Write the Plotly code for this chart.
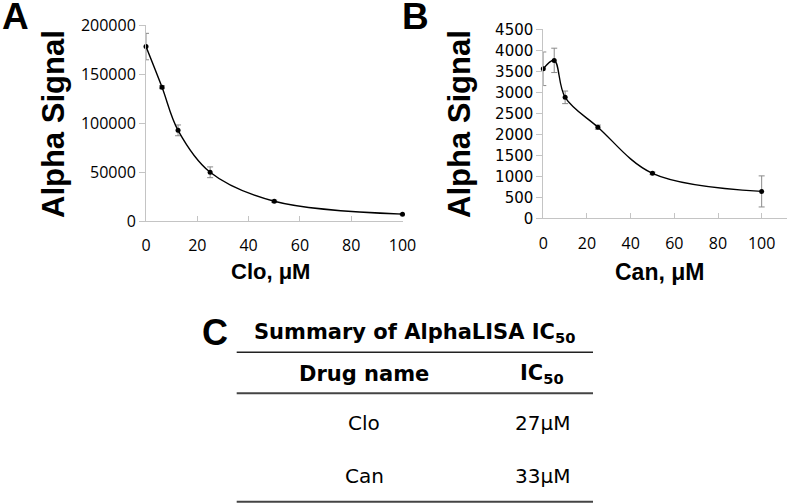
import plotly.graph_objects as go

W, H = 789, 504

# ---- data ----
conc_clo = [0, 6.25, 12.5, 25, 50, 100]
signal_clo = [178000, 136500, 92500, 49700, 20100, 7000]
err_clo = [13500, 1500, 5500, 5500, 1200, 600]

conc_can = [0, 5, 10, 25, 50, 100]
signal_can = [3560, 3760, 2880, 2170, 1070, 640]
err_can = [400, 290, 150, 50, 30, 370]

x_ticks = [0, 20, 40, 60, 80, 100]
y_ticks_a = [0, 50000, 100000, 150000, 200000]
y_ticks_b = [0, 500, 1000, 1500, 2000, 2500, 3000, 3500, 4000, 4500]

table_title = "Summary of AlphaLISA IC<sub>50</sub>"
table_header = ["Drug name", "IC<sub>50</sub>"]
table_drugs = ["Clo", "Can"]
table_ic50 = ["27μM", "33μM"]


def px_x(p):
    return p / W


def px_y(p):
    return 1 - p / H


fig = go.Figure()

line_style = dict(color="black", width=1.4, shape="spline", smoothing=1.0)
marker_style = dict(color="black", size=5, symbol="circle")

fig.add_trace(go.Scatter(
    x=conc_clo, y=signal_clo, mode="lines+markers",
    line=line_style, marker=marker_style,
    error_y=dict(type="data", array=err_clo, color="#8a8a8a", thickness=1, width=3),
    xaxis="x", yaxis="y", cliponaxis=False, showlegend=False))

fig.add_trace(go.Scatter(
    x=conc_can, y=signal_can, mode="lines+markers",
    line=line_style, marker=marker_style,
    error_y=dict(type="data", array=err_can, color="#8a8a8a", thickness=1, width=3),
    xaxis="x2", yaxis="y2", cliponaxis=False, showlegend=False))

axis_color = "#c4c4c4"
tick_font = dict(family="Open Sans", size=16, color="black")

common_x = dict(showgrid=False, zeroline=False, showline=True, linecolor=axis_color, linewidth=1,
                ticks="inside", ticklen=5, tickcolor=axis_color, tickfont=tick_font,
                tickmode="array", tickvals=x_ticks, ticklabelstandoff=10, automargin=False)
common_y = dict(showgrid=False, zeroline=False, showline=True, linecolor=axis_color, linewidth=1,
                ticks="outside", ticklen=6, tickcolor=axis_color,
                tickmode="array", tickformat="d", automargin=False)

fig.update_layout(
    width=W, height=H, autosize=False,
    margin=dict(l=0, r=0, t=0, b=0, pad=0, autoexpand=False),
    paper_bgcolor="white", plot_bgcolor="white",
    xaxis=dict(domain=[px_x(146), px_x(402.5)], range=[0, 100], anchor="y", **common_x),
    yaxis=dict(domain=[px_y(221), px_y(25)], range=[0, 200000], anchor="x",
               tickvals=y_ticks_a, tickfont=tick_font, **common_y),
    xaxis2=dict(domain=[px_x(543.3), px_x(787)], range=[0, 111.6], anchor="y2", **common_x),
    yaxis2=dict(domain=[px_y(218.3), px_y(29.3)], range=[0, 4500], anchor="x2",
                tickvals=y_ticks_b, tickfont=dict(family="DejaVu Sans", size=15, color="black"),
                **common_y),
)

ann = []


def add_text(text, x, y, size, family="Liberation Sans", bold=False, angle=0, xanchor="center"):
    t = f"<b>{text}</b>" if bold else text
    ann.append(dict(text=t, x=px_x(x), y=px_y(y), xref="paper", yref="paper",
                    xanchor=xanchor, yanchor="middle", showarrow=False, textangle=angle,
                    font=dict(family=family, size=size, color="black")))


# panel letters
add_text("A", 15, 17, 37, bold=True)
add_text("B", 415, 17, 37, bold=True)
add_text("C", 215, 332, 36, bold=True)

# axis titles
add_text("Alpha Signal", 53, 124, 31, bold=True, angle=-90)
add_text("Alpha Signal", 459, 124, 31, bold=True, angle=-90)
add_text("Clo, μM", 270, 271, 22, bold=True)
add_text("Can, μM", 659, 272, 23, bold=True)

# table
add_text(table_title, 414, 333, 21, family="DejaVu Sans", bold=True)
add_text(table_header[0], 364, 374, 21, family="DejaVu Sans", bold=True)
add_text(table_header[1], 542, 374, 21, family="DejaVu Sans", bold=True)
row_y = [423, 476]
for name, val, yy in zip(table_drugs, table_ic50, row_y):
    add_text(name, 364, yy, 20, family="DejaVu Sans")
    add_text(val, 542, yy, 20, family="DejaVu Sans")

fig.update_layout(annotations=ann)

shapes = []
for yy, col, w in [(352.3, "#222222", 1.5), (393.3, "#444444", 2), (501.7, "#444444", 2)]:
    shapes.append(dict(type="line", xref="paper", yref="paper",
                       x0=px_x(236.7), x1=px_x(593), y0=px_y(yy), y1=px_y(yy),
                       line=dict(color=col, width=w)))
fig.update_layout(shapes=shapes)

fig.write_html("out.html", config={"displayModeBar": False},
               post_script="document.body.style.margin='0';document.body.style.overflow='hidden';")
